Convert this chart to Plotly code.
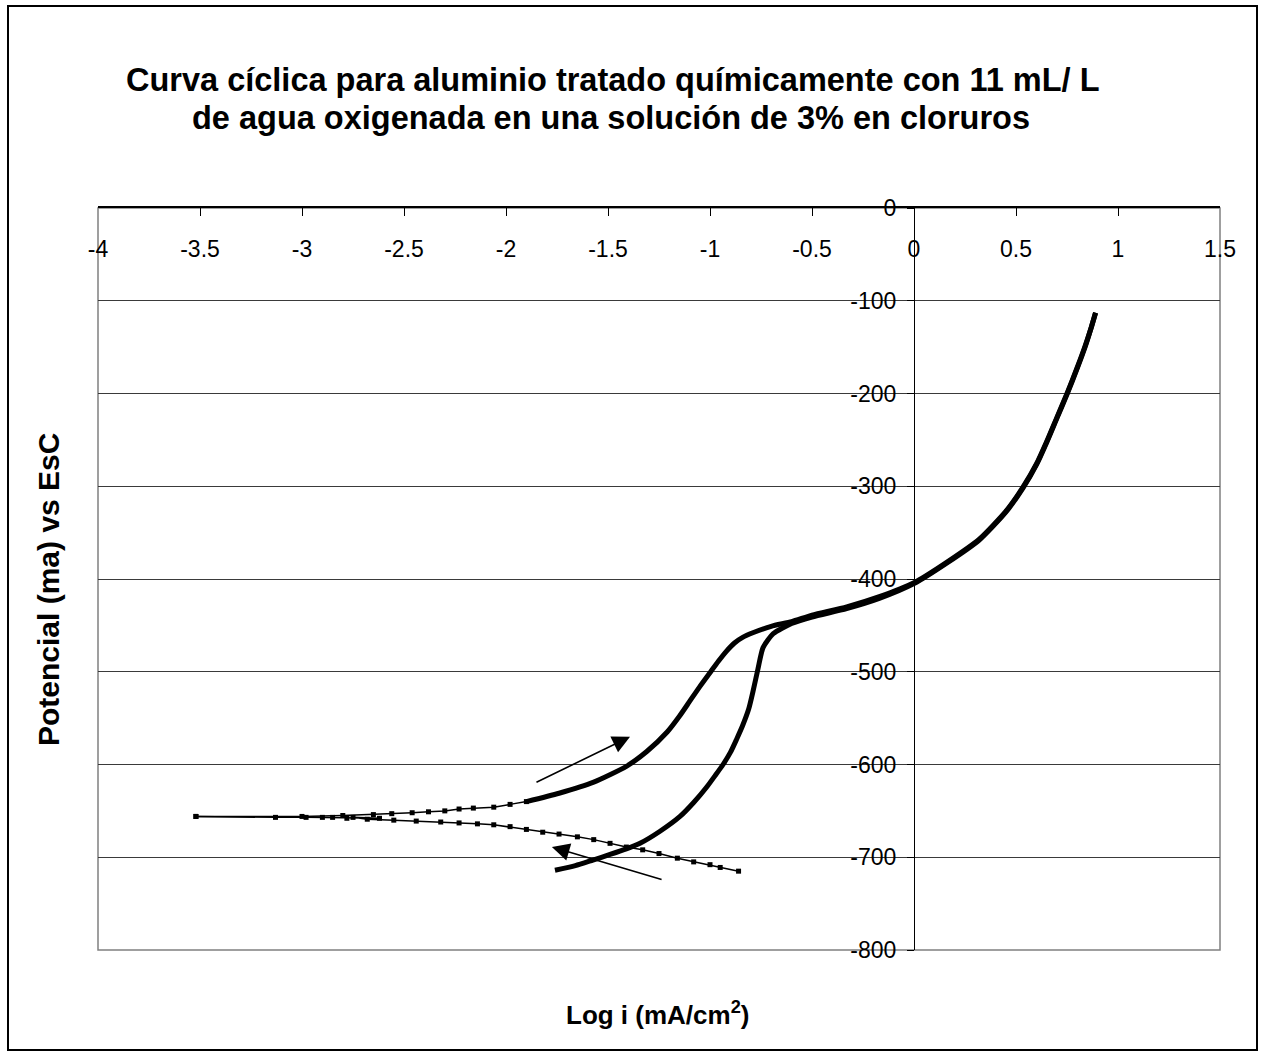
import plotly.graph_objects as go

# rama catódica (barrido hacia la izquierda desde -715 mV)
cat_x = [-0.86, -0.95, -1.0, -1.08, -1.16, -1.25, -1.33, -1.41, -1.49, -1.57, -1.65,
         -1.74, -1.82, -1.9, -1.98, -2.06, -2.14, -2.23, -2.32, -2.44, -2.55,
         -2.68, -2.75, -2.62, -2.85, -2.78, -2.98, -2.9, -3.13, -3.52]
cat_y = [-715, -711, -708, -705, -701, -696, -692, -689, -685, -681, -678,
         -675, -673, -670, -667, -665, -664, -663, -662, -661, -660,
         -659, -657, -658, -657, -658, -657, -657, -657, -656]

# rama anódica (barrido directo)
anod_x = [-3.52, -3.0, -2.8, -2.65, -2.56, -2.46, -2.38, -2.3, -2.23, -2.16, -2.06,
          -1.98, -1.9, -1.74, -1.57, -1.41, -1.31, -1.21, -1.15, -1.1, -1.05, -1.0,
          -0.96, -0.92, -0.88, -0.84, -0.79, -0.7, -0.6, -0.5, -0.33, -0.17, 0.0,
          0.16, 0.32, 0.45, 0.534, 0.6, 0.65, 0.7, 0.75, 0.8, 0.84, 0.87, 0.89]
anod_y = [-656, -656, -655, -654, -653, -652, -651, -650, -648, -647, -646,
          -643, -640, -631, -619, -602, -586, -565, -548, -532, -516, -501,
          -489, -478, -469, -463, -458, -451, -446, -439, -430, -419, -404,
          -382, -357, -327, -301, -276, -252, -226, -200, -172, -148, -128, -113]

# barrido inverso
rev_x = [0.89, 0.87, 0.84, 0.8, 0.75, 0.7, 0.65, 0.6, 0.534, 0.45, 0.32, 0.16, 0.0,
         -0.17, -0.33, -0.5, -0.6, -0.69, -0.74, -0.765, -0.79, -0.81, -0.84, -0.87,
         -0.9, -0.936, -0.975, -1.015, -1.08, -1.147, -1.245, -1.343, -1.41, -1.49,
         -1.574, -1.66, -1.76]
rev_y = [-113, -128, -149, -173, -201, -227, -253, -277, -302, -328, -358, -383, -405,
         -421, -432, -441, -448, -459, -474, -497, -522, -540, -558, -573,
         -587, -600, -612, -624, -641, -656, -672, -685, -691, -697,
         -703, -709, -714]

x_ticks = [-4, -3.5, -3, -2.5, -2, -1.5, -1, -0.5, 0, 0.5, 1, 1.5]
x_labels = ["-4", "-3.5", "-3", "-2.5", "-2", "-1.5", "-1", "-0.5", "0", "0.5", "1", "1.5"]
y_ticks = [0, -100, -200, -300, -400, -500, -600, -700, -800]
y_labels = ["0", "-100", "-200", "-300", "-400", "-500", "-600", "-700", "-800"]

FONT = "Liberation Sans, Arial"
W, H = 1264, 1052
L, R, T, B = 98, 1220, 208, 950


def px_x(p):
    return (p - L) / (R - L)


def px_y(p):
    return (B - p) / (B - T)


thick = dict(color="black", width=5, shape="spline", smoothing=0.6)
mk = dict(symbol="square", size=5, color="black")
split = 12  # la parte izquierda del barrido directo es poco densa

fig = go.Figure()
fig.add_trace(go.Scatter(x=cat_x, y=cat_y, mode="lines+markers",
                         line=dict(color="black", width=1.5), marker=mk))
fig.add_trace(go.Scatter(x=anod_x[:split + 1], y=anod_y[:split + 1], mode="lines+markers",
                         line=dict(color="black", width=1.5), marker=mk))
fig.add_trace(go.Scatter(x=anod_x[split:], y=anod_y[split:], mode="lines", line=thick))
fig.add_trace(go.Scatter(x=rev_x, y=rev_y, mode="lines", line=thick))

# flechas de dirección del barrido
for (x0, y0, x1, y1) in [(-1.858, -620, -1.392, -570), (-1.23, -724.5, -1.775, -689)]:
    fig.add_annotation(x=x1, y=y1, ax=x0, ay=y0, xref="x", yref="y", axref="x", ayref="y",
                       text="", showarrow=True, arrowhead=2, arrowsize=2.2,
                       arrowwidth=1.6, arrowcolor="black")

texts = [
    ("<b>Curva cíclica para aluminio tratado químicamente con 11 mL/ L</b>", 613, 80, 32.5, 0),
    ("<b>de agua oxigenada en una solución de 3% en cloruros</b>", 611, 118, 32.5, 0),
    ("<b>Potencial (ma) vs EsC</b>", 48, 590, 30, -90),
    ("<b>Log i (mA/cm<sup>2</sup>)</b>", 657, 1013, 26, 0),
]
for txt, cx, cy, size, ang in texts:
    fig.add_annotation(text=txt, textangle=ang, xref="paper", yref="paper",
                       x=px_x(cx), y=px_y(cy), xanchor="center", yanchor="middle",
                       showarrow=False, font=dict(family=FONT, size=size, color="black"))

# marco exterior y marco del área de trazado
fig.add_shape(type="rect", xref="paper", yref="paper", x0=px_x(8), x1=px_x(1257),
              y0=px_y(1050), y1=px_y(6), fillcolor="rgba(0,0,0,0)", opacity=1,
              line=dict(color="black", width=2))
fig.add_shape(type="rect", xref="paper", yref="paper", x0=0, x1=1, y0=0, y1=1,
              fillcolor="rgba(0,0,0,0)", opacity=1,
              line=dict(color="#808080", width=1.5), layer="below")

fig.update_layout(
    width=W, height=H, template="simple_white", showlegend=False,
    margin=dict(l=L, r=W - R, t=T, b=H - B),
    plot_bgcolor="white", paper_bgcolor="white",
    xaxis=dict(range=[-4, 1.5], tickvals=x_ticks, ticktext=x_labels, side="top",
               showgrid=False, showline=True, linecolor="black", linewidth=1.5,
               ticks="inside", ticklen=8, tickcolor="black",
               ticklabelposition="inside", ticklabelstandoff=27, ticklabeloverflow="allow",
               tickfont=dict(family=FONT, size=23, color="black"), zeroline=False),
    yaxis=dict(range=[-800, 0], tickvals=y_ticks, ticktext=y_labels, anchor="free",
               position=4 / 5.5, showgrid=True, gridcolor="#3a3a3a", gridwidth=1,
               showline=True, linecolor="black", linewidth=1,
               ticks="outside", ticklen=7, tickcolor="black", ticklabelstandoff=6,
               tickfont=dict(family=FONT, size=23, color="black"), zeroline=False),
)

fig.write_html("out.html", config={"displayModeBar": False},
               post_script="document.body.style.margin='0';")
